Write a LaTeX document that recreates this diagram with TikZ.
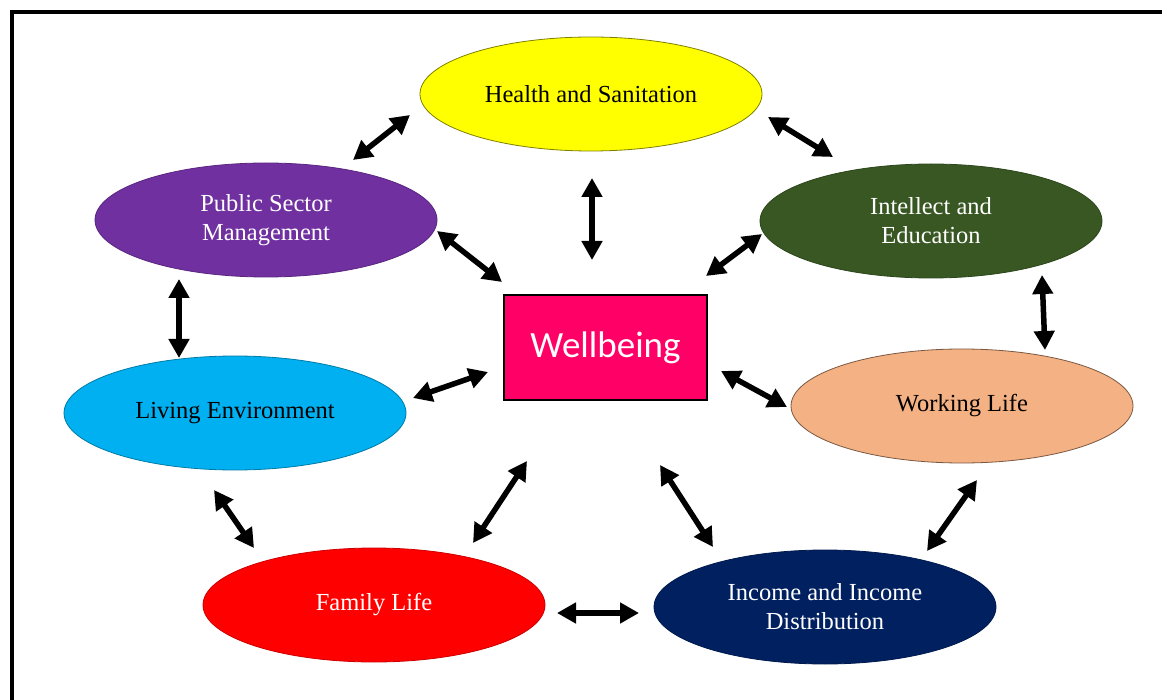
\documentclass[tikz,border=0pt]{standalone}
\usepackage{fontspec}
\setmainfont{Liberation Serif}
\newfontfamily\wbfont{Carlito}
\usetikzlibrary{shapes.geometric,arrows.meta}
\definecolor{cyellow}{HTML}{FFFF00}
\definecolor{cpurple}{HTML}{7030A0}
\definecolor{cgreen}{HTML}{385723}
\definecolor{cblue}{HTML}{00B0F0}
\definecolor{cpeach}{HTML}{F4B183}
\definecolor{cred}{HTML}{FF0000}
\definecolor{cnavy}{HTML}{002060}
\definecolor{cpink}{HTML}{FF0066}
\tikzset{
  oval/.style={ellipse, minimum width=342pt, minimum height=114pt, inner sep=0pt,
    align=center, font=\fontsize{24.5}{29}\selectfont, line width=0.8pt},
  dbl/.style={line width=5.5pt, {Triangle[length=19pt,width=20pt]}-{Triangle[length=19pt,width=20pt]}},
  frame/.style={line width=4pt, draw=black}
}
\begin{document}
\begin{tikzpicture}[x=1pt,y=-1pt]
\useasboundingbox (0,0) rectangle (1162,700);
\fill[white] (0,0) rectangle (1162,700);
\coordinate (fb) at (11.5,702);
\coordinate (fc) at (11.5,12.5);
\coordinate (fr) at (1164,12.5);
\draw[frame] (fb) -- (fc) -- (fr);

\node[oval, fill=cyellow, draw=cyellow!50!black, text=black] (hs) at (591,94) {Health and Sanitation};
\node[oval, fill=cpurple, draw=cpurple!80!black, text=white] (ps) at (266,220) {Public Sector\\Management};
\node[oval, fill=cgreen, draw=cgreen!80!black, text=white] (ie) at (931,221) {Intellect and\\Education};
\node[oval, fill=cblue, draw=cblue!70!black, text=black] (le) at (235,413) {Living Environment};
\node[oval, fill=cpeach, draw=cpeach!50!black, text=black] (wl) at (962,406) {Working Life};
\node[oval, fill=cred, draw=cred!80!black, text=white] (fl) at (374,605) {Family Life};
\node[oval, fill=cnavy, draw=cnavy!80!black, text=white] (iid) at (825,607) {Income and Income\\Distribution};
\node[rectangle, fill=cpink, draw=black, line width=1.8pt, minimum width=203pt, minimum height=105pt,
  inner sep=0pt, text=white, font=\wbfont\fontsize{37}{40}\selectfont] (wb) at (605.5,347.5) {Wellbeing};

% arrow end points
\coordinate (a1s) at (353,160); \coordinate (a1e) at (410,115);
\coordinate (a2s) at (768,117); \coordinate (a2e) at (833,157);
\coordinate (a3s) at (592,178); \coordinate (a3e) at (592,260);
\coordinate (a4s) at (437,231); \coordinate (a4e) at (502,282);
\coordinate (a5s) at (762,234); \coordinate (a5e) at (706,276);
\coordinate (a6s) at (179,279); \coordinate (a6e) at (179,358);
\coordinate (a7s) at (1042,275); \coordinate (a7e) at (1045,350);
\coordinate (a8s) at (413,398); \coordinate (a8e) at (488,372);
\coordinate (a9s) at (721,371); \coordinate (a9e) at (787,407);
\coordinate (a10s) at (214,490); \coordinate (a10e) at (254,548);
\coordinate (a11s) at (527,461); \coordinate (a11e) at (473,543);
\coordinate (a12s) at (660,465); \coordinate (a12e) at (713,547);
\coordinate (a13s) at (977,480); \coordinate (a13e) at (927,551);
\coordinate (a14s) at (557,613); \coordinate (a14e) at (639,613);

\foreach \i in {1,...,14} {\draw[dbl] (a\i s) -- (a\i e);}
\end{tikzpicture}
\end{document}
